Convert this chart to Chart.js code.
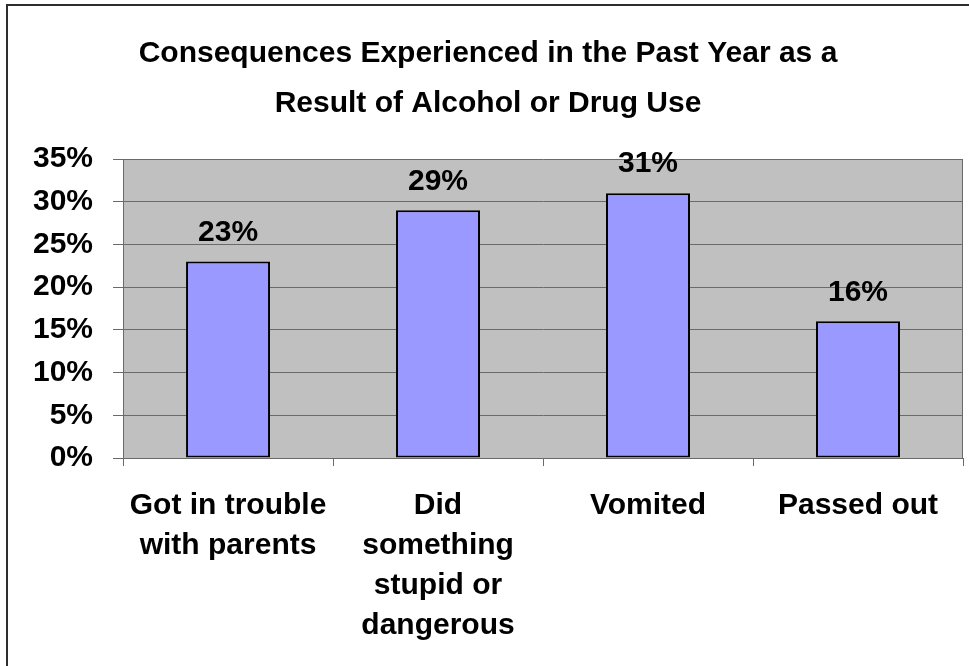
<!DOCTYPE html>
<html>
<head>
<meta charset="utf-8">
<script src="https://cdn.jsdelivr.net/npm/chart.js@4"></script>
<style>
    html, body { margin: 0; padding: 0; background: #fff; overflow: hidden; }
    #wrap { position: relative; width: 969px; height: 666px; }
    #frame {
        position: absolute; left: 6px; top: 4px;
        width: 1100px; height: 800px;
        border: 2px solid #2e2e2e; pointer-events: none;
    }
</style>
</head>
<body>
<div id="wrap">
    <canvas id="chart"></canvas>
    <div id="frame"></div>
</div>
<script>
// Chart data
const categories = [
    ['Got in trouble', 'with parents'],
    ['Did', 'something', 'stupid or', 'dangerous'],
    'Vomited',
    'Passed out'
];
const percentValues = [23, 29, 31, 16];
const yTicks = [0, 5, 10, 15, 20, 25, 30, 35];
const titleLines = [
    'Consequences Experienced in the Past Year as a',
    'Result of Alcohol or Drug Use'
];

const FONT = '"Liberation Sans", Arial, Helvetica, sans-serif';
const FONT_SIZE = 30;
const gridGray = '#6a6a6a';

// Gray plot background with a thin right edge
const plotBackground = {
    id: 'plotBackground',
    beforeDraw(chart) {
        const { ctx, chartArea: a } = chart;
        ctx.save();
        ctx.fillStyle = '#c0c0c0';
        ctx.fillRect(a.left, a.top, a.width, a.height);
        ctx.strokeStyle = gridGray;
        ctx.lineWidth = 1;
        ctx.beginPath();
        ctx.moveTo(a.right - 0.5, a.top);
        ctx.lineTo(a.right - 0.5, a.bottom);
        ctx.stroke();
        ctx.restore();
    }
};

// Value labels above each bar
const valueLabels = {
    id: 'valueLabels',
    afterDatasetsDraw(chart) {
        const { ctx } = chart;
        const meta = chart.getDatasetMeta(0);
        ctx.save();
        ctx.font = 'bold ' + FONT_SIZE + 'px ' + FONT;
        ctx.fillStyle = '#000';
        ctx.textAlign = 'center';
        ctx.textBaseline = 'middle';
        meta.data.forEach((bar, i) => {
            ctx.fillText(percentValues[i] + '%', bar.x, bar.y - 29);
        });
        ctx.restore();
    }
};

new Chart(document.getElementById('chart'), {
    type: 'bar',
    data: {
        labels: categories,
        datasets: [{
            data: percentValues,
            backgroundColor: '#9999ff',
            borderColor: '#000',
            borderWidth: 2,
            borderSkipped: false,
            categoryPercentage: 1,
            barPercentage: 0.4
        }]
    },
    options: {
        responsive: true,
        maintainAspectRatio: false,
        animation: false,
        layout: { padding: { left: 13, right: 6, top: 29, bottom: 0 } },
        plugins: {
            legend: { display: false },
            tooltip: { enabled: false },
            title: {
                display: true,
                text: titleLines,
                color: '#000',
                font: { family: FONT, size: FONT_SIZE, weight: 'bold', lineHeight: 1.667 },
                padding: { top: 0, bottom: 30 }
            }
        },
        scales: {
            y: {
                min: 0,
                max: 35,
                afterBuildTicks: axis => { axis.ticks = yTicks.map(v => ({ value: v })); },
                grid: { color: gridGray, lineWidth: 1, tickLength: 10 },
                border: { color: gridGray, width: 1 },
                ticks: {
                    padding: 20,
                    color: '#000',
                    font: { family: FONT, size: FONT_SIZE, weight: 'bold' },
                    callback: v => v + '%'
                }
            },
            x: {
                grid: { drawOnChartArea: false, color: gridGray, tickLength: 8, offset: true },
                border: { color: gridGray, width: 1 },
                ticks: {
                    padding: 20,
                    color: '#000',
                    maxRotation: 0,
                    autoSkip: false,
                    font: { family: FONT, size: FONT_SIZE, weight: 'bold', lineHeight: 1.333 }
                }
            }
        }
    },
    plugins: [plotBackground, valueLabels]
});
</script>
</body>
</html>
